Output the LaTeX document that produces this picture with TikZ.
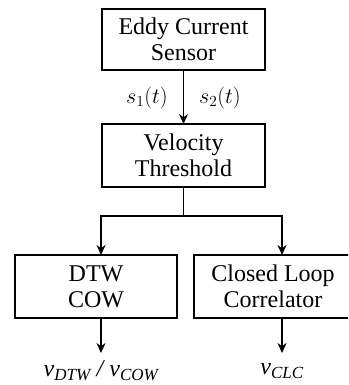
\documentclass[tikz,border=0pt]{standalone}
\usepackage{fix-cm}
\usepackage{fontspec}
\setmainfont{Liberation Serif}
\usetikzlibrary{arrows.meta}
\begin{document}
\begin{tikzpicture}[x=1pt,y=-1pt,
  blk/.style={draw,line width=1.9pt,inner sep=0pt},
  txt/.style={align=center,font=\fontsize{24}{26}\selectfont},
  conn/.style={line width=1.9pt,-{Stealth[length=10pt,width=9pt]}},
  lbl/.style={font=\fontsize{22}{24}\selectfont},
  vl/.style={font=\fontsize{24}{26}\selectfont\itshape}]
\useasboundingbox (0,0) rectangle (348,385);
\clip (0,0) rectangle (348,385);
\draw[blk] (102,9) rectangle (265,70);
\node[txt] (sens) at (183.5,39.5) {Eddy Current\\Sensor};
\coordinate (sensB) at (183.5,70);
\draw[blk] (102,124) rectangle (265,187);
\node[txt] (vel) at (183.5,155.5) {Velocity\\Threshold};
\coordinate (velT) at (183.5,124);
\coordinate (velB) at (183.5,187);
\coordinate (split) at (183.5,216);
\draw[blk] (15,255) rectangle (177,318);
\node[txt] (dtw) at (96,286.5) {DTW\\COW};
\draw[blk] (194,255) rectangle (352,318);
\node[txt] (clc) at (273,286.5) {Closed Loop\\Correlator};
\coordinate (dtwT) at (101,255);
\coordinate (dtwB) at (101,318);
\coordinate (clcT) at (282,255);
\coordinate (clcB) at (282,318);
\node[lbl] (s1) at (147,98) {$s_1(t)$};
\node[lbl] (s2) at (220,98) {$s_2(t)$};
\node[vl] (vd) at (101,371) {v\textsubscript{\fontsize{17}{18}\selectfont DTW} / v\textsubscript{\fontsize{17}{18}\selectfont COW}};
\node[vl] (vc) at (282,371) {v\textsubscript{\fontsize{17}{18}\selectfont CLC}};
\coordinate (vdT) at (101,353);
\coordinate (vcT) at (282,353);
\draw[conn] (sensB) -- (velT);
\draw[line width=1.9pt] (velB) -- (split);
\draw[conn] (split) -| (dtwT);
\draw[conn] (split) -| (clcT);
\draw[conn] (dtwB) -- (vdT);
\draw[conn] (clcB) -- (vcT);
\end{tikzpicture}
\end{document}
